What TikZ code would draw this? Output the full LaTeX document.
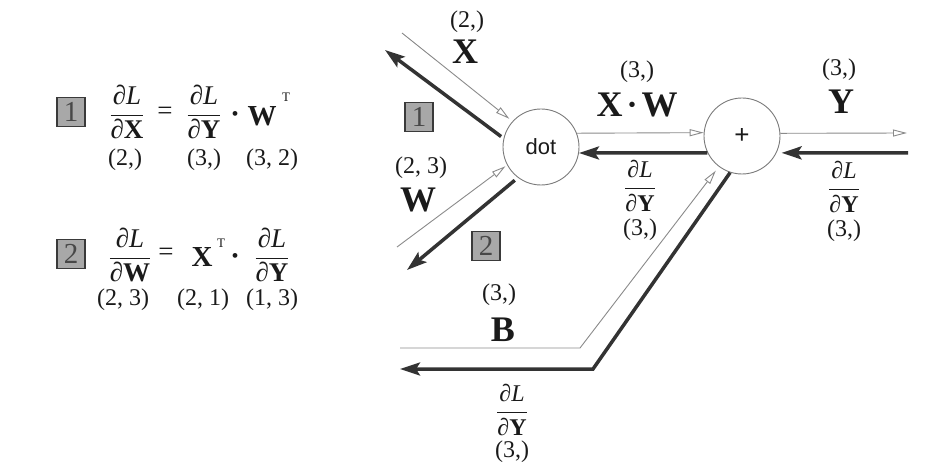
\documentclass[tikz,border=0pt]{standalone}
\usepackage{fontspec}
\usepackage{amsmath}
\setmainfont{Liberation Serif}
\setsansfont{Liberation Sans}
\usetikzlibrary{arrows.meta}
\definecolor{thinc}{HTML}{8A8A8A}
\definecolor{dk}{HTML}{333333}
\definecolor{boxf}{HTML}{A8A8A8}
\definecolor{boxb}{HTML}{3A3A3A}
\definecolor{boxt}{HTML}{484848}
\definecolor{circc}{HTML}{7A7A7A}
\definecolor{txt}{HTML}{1A1A1A}
\newcommand\pfrac[2]{$\dfrac{\text{∂\textit{#1}}}{\text{∂\textbf{#2}}}$}
\newcommand\fs[1]{\fontsize{#1}{#1}\selectfont}
\begin{document}
\begin{tikzpicture}[x=1pt,y=-1pt,
  fwd/.style={draw=thinc, line width=0.9pt, -{Triangle[open, length=14pt, width=7pt]}},
  bwd/.style={draw=dk, line width=3.5pt, -{Stealth[length=20pt, width=13pt, inset=4pt]}},
  circ/.style={circle, draw=circc, line width=0.9pt, minimum size=76pt, inner sep=0pt, font=\sffamily\fs{22}, text=txt},
  numbox/.style={draw=boxb, fill=boxf, line width=1.3pt, minimum width=28pt, minimum height=29pt, inner sep=0pt, font=\fs{29}, text=boxt},
  lab/.style={font=\fs{36}\bfseries, inner sep=0pt, text=txt},
  dim/.style={font=\fs{24}, inner sep=0pt, text=txt},
  frr/.style={font=\fs{24}, inner sep=0pt, text=txt},
  frl/.style={font=\fs{27}, inner sep=0pt, text=txt},
  bl/.style={font=\fs{29}\bfseries, inner sep=0pt, text=txt},
  sup/.style={font=\fs{13}, inner sep=0pt, text=txt},
  bul/.style={font=\fs{20}, inner sep=0pt, text=txt},
]
\useasboundingbox (0,0) rectangle (946,473);

% ---------- left formulas ----------
\node[numbox] (b1) at (71,112) {1};
\node[frl] (f1) at (127,112) {\pfrac{L}{X}};
\node[frl] (e1) at (165,113) {=};
\node[frl] (f2) at (204,112) {\pfrac{L}{Y}};
\node[bul] (d1) at (235,116) {•};
\node[bl] (w1) at (262,116) {W};
\node[sup] (t1) at (286,97) {T};
\node[dim] (m11) at (125,160) {(2,)};
\node[dim] (m12) at (204,160) {(3,)};
\node[dim] (m13) at (272,160) {(3, 2)};

\node[numbox] (b2) at (71,254) {2};
\node[frl] (f3) at (130,255) {\pfrac{L}{W}};
\node[frl] (e2) at (166,254) {=};
\node[bl] (x2) at (202,257) {X};
\node[sup] (t2) at (221,243) {T};
\node[bul] (d2) at (235,258) {•};
\node[frl] (f4) at (272,255) {\pfrac{L}{Y}};
\node[dim] (m21) at (123,300) {(2, 3)};
\node[dim] (m22) at (203,300) {(2, 1)};
\node[dim] (m23) at (272,300) {(1, 3)};

% ---------- graph ----------
\node[circ] (dot) at (541,147) {dot};
\node[circ] (plus) at (742,136) {\fs{26}+};

\coordinate (xin) at (402,33);
\coordinate (xout) at (385,50);
\coordinate (win) at (397,247);
\coordinate (wout) at (407,270);
\coordinate (yout) at (907,133);
\coordinate (yin) at (908,153);
\coordinate (bin) at (400,348);
\coordinate (bc1) at (580,348);
\coordinate (bout) at (400,369);
\coordinate (bc2) at (593,369);

% X input
\draw[fwd, shorten >=4pt] (xin) -- (dot.138);
\draw[bwd, shorten <=3pt] (dot.167) -- (xout);
% W input
\draw[fwd, shorten >=2pt] (win) -- (dot.208);
\draw[bwd, shorten <=4pt] (dot.233) -- (wout);
% dot -> plus
\draw[fwd] (dot.21.6) -- (plus.175.5);
\draw[bwd] (plus.206.6) -- (dot.-9);
% plus -> Y
\draw[fwd] (plus.4.5) -- (yout);
\draw[bwd, shorten >=5pt] (yin) -- (plus.-26.6);
% bias
\draw[fwd, shorten >=5pt] (bin) -- (bc1) -- (plus.233);
\draw[bwd] (plus.252) -- (bc2) -- (bout);

% labels
\node[dim] (lx1) at (467,22) {(2,)};
\node[lab] (lx2) at (465,52) {X};
\node[numbox] (b1r) at (419,117) {1};
\node[dim] (lw1) at (421,168) {(2, 3)};
\node[lab] (lw2) at (418,200) {W};
\node[numbox] (b2r) at (486,246) {2};

\node[dim] (lxw1) at (637,72) {(3,)};
\node[lab] (lxw2) at (637,105) {X\,\raisebox{5pt}{\fs{20}•}\,W};
\node[frr] (gxw) at (640,186) {\pfrac{L}{Y}};
\node[dim] (gxw2) at (640,230) {(3,)};

\node[dim] (ly1) at (839,70) {(3,)};
\node[lab] (ly2) at (841,102) {Y};
\node[frr] (gy) at (844,187) {\pfrac{L}{Y}};
\node[dim] (gy2) at (844,231) {(3,)};

\node[dim] (lb1) at (499,295) {(3,)};
\node[lab] (lb2) at (503,330) {B};
\node[frr] (gb) at (512,410) {\pfrac{L}{Y}};
\node[dim] (gb2) at (512,452) {(3,)};
\end{tikzpicture}
\end{document}
